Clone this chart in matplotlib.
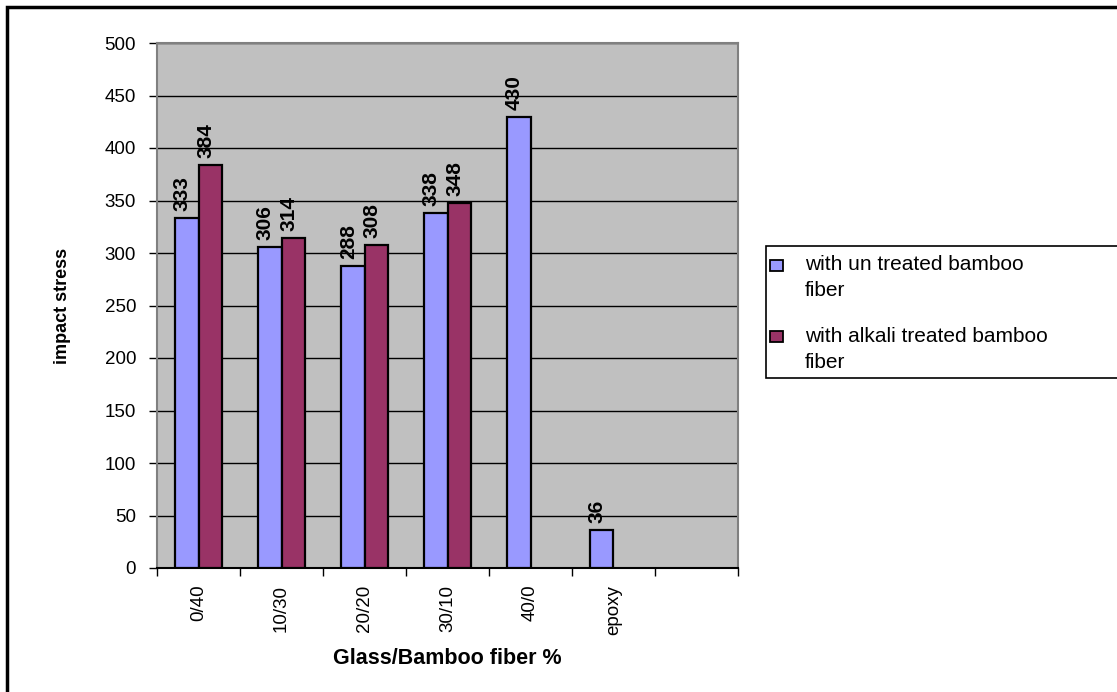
import matplotlib
matplotlib.use("Agg")
import matplotlib.pyplot as plt
from matplotlib.patches import Rectangle
import numpy as np

plt.rcParams['font.family'] = ['Liberation Sans', 'DejaVu Sans']

# Impact stress by glass/bamboo fiber ratio
categories = ['0/40', '10/30', '20/20', '30/10', '40/0', 'epoxy', '']
untreated = [333, 306, 288, 338, 430, 36]
alkali = [384, 314, 308, 348]
series_names = [['with un treated bamboo', 'fiber'], ['with alkali treated bamboo', 'fiber']]
y_ticks = [0, 50, 100, 150, 200, 250, 300, 350, 400, 450, 500]

BLUE = '#9999FF'
MAROON = '#993366'
PLOT_BG = '#C0C0C0'

W, H = 1117, 692
fig = plt.figure(figsize=(W / 100, H / 100), dpi=100)
fig.patch.set_facecolor('white')

def fx(px):
    return px / W

def fy(py):
    return 1 - py / H

ax = fig.add_axes([fx(157), fy(568), fx(738) - fx(157), fy(43) - fy(568)])
ax.set_facecolor(PLOT_BG)

n = len(categories)
x = np.arange(n)
bw = 1 / 3.5

xu = x[:len(untreated)] - bw / 2
xa = x[:len(alkali)] + bw / 2
ax.bar(xu, untreated, width=bw, color=BLUE, edgecolor='black', linewidth=1.6, zorder=3)
ax.bar(xa, alkali, width=bw, color=MAROON, edgecolor='black', linewidth=1.6, zorder=3)

for xs, vals in ((xu, untreated), (xa, alkali)):
    for xi, v in zip(xs, vals):
        ax.annotate(str(v), (xi, v), xytext=(-3, 5), textcoords='offset points',
                    rotation=90, ha='center', va='bottom', fontsize=15,
                    fontweight='bold', zorder=4)

ax.set_xlim(-0.5, n - 0.5)
ax.set_ylim(0, 500)
ax.set_yticks(y_ticks)
ax.set_yticklabels([str(t) for t in y_ticks], fontsize=13.5)
ax.yaxis.grid(True, color='black', linewidth=1.0, zorder=1)
ax.set_axisbelow(True)

ax.set_xticks(x)
ax.set_xticklabels(categories, rotation=90, fontsize=13.5, va='top', ha='center')
ax.tick_params(axis='x', which='major', length=0, pad=12)
ax.set_xticks(np.arange(n + 1) - 0.5, minor=True)
ax.tick_params(axis='x', which='minor', length=6, width=1, color='black', direction='out')
ax.tick_params(axis='y', length=6, width=1, color='black', direction='out', pad=9)

for side in ('top', 'right', 'left'):
    ax.spines[side].set_color('#808080')
    ax.spines[side].set_linewidth(1.5)
ax.spines['bottom'].set_color('black')
ax.spines['bottom'].set_linewidth(1.5)

ax.set_xlabel('Glass/Bamboo fiber %', fontsize=15.5, fontweight='bold', labelpad=10)
ax.set_ylabel('impact stress', fontsize=13, fontweight='bold', labelpad=24)

# Outer chart border
fig.add_artist(Rectangle((fx(7), fy(700)), fx(1130) - fx(7), fy(7) - fy(700),
                         transform=fig.transFigure, fill=False, edgecolor='black',
                         linewidth=2.5))

# Legend box
fig.add_artist(Rectangle((fx(766), fy(378)), fx(1130) - fx(766), fy(246) - fy(378),
                         transform=fig.transFigure, facecolor='white', edgecolor='black',
                         linewidth=1.2))
entries = [(series_names[0], BLUE, 265), (series_names[1], MAROON, 336)]
for lines, color, py in entries:
    fig.add_artist(Rectangle((fx(770), fy(py + 5.5)), fx(783) - fx(770), fy(py - 5.5) - fy(py + 5.5),
                             transform=fig.transFigure, facecolor=color, edgecolor='black',
                             linewidth=1.3))
    for k, line in enumerate(lines):
        fig.text(fx(805), fy(py + 26 * k), line, fontsize=15, va='center', ha='left')

fig.savefig('out.png', dpi=100)
